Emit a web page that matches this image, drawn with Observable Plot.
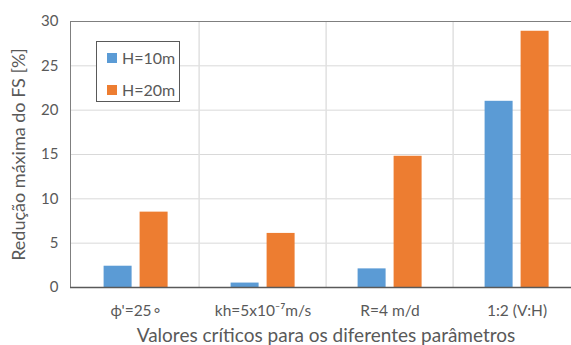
<!DOCTYPE html>
<html>
<head>
<meta charset="utf-8">
<script src="https://cdn.jsdelivr.net/npm/d3@7"></script>
<script src="https://cdn.jsdelivr.net/npm/@observablehq/plot@0.6"></script>
<style>
  html, body { margin: 0; padding: 0; background: #fff; }
  #wrap { position: relative; width: 571px; height: 345px; overflow: hidden; font-family: Lato, "Open Sans", sans-serif; }
  #legend { position: absolute; left: 96px; top: 41px; width: 82px; height: 59px; border: 1px solid #595959; background: #fff; }
  .item { position: absolute; left: 10px; display: flex; align-items: center; font-size: 16px; color: #595959; }
  .sw { width: 10px; height: 10px; margin-right: 5px; }
</style>
</head>
<body>
<div id="wrap"></div>
<script>
const categories = ["ϕ'=25∘", "kh=5x10⁻⁷m/s", "R=4 m/d", "1:2 (V:H)"];
const seriesNames = ["H=10m", "H=20m"];
const valuesH10 = [2.4, 0.5, 2.1, 21.0];
const valuesH20 = [8.5, 6.1, 14.8, 28.9];
const yTicks = [0, 5, 10, 15, 20, 25, 30];
const colors = ["#5b9bd5", "#ed7d31"];

const rows10 = categories.map((c, i) => ({cat: c, v: valuesH10[i]}));
const rows20 = categories.map((c, i) => ({cat: c, v: valuesH20[i]}));

const txt = "#595959";
const chart = Plot.plot({
  width: 571,
  height: 345,
  marginLeft: 70,
  marginRight: -10,
  marginTop: 21,
  marginBottom: 58,
  style: {fontFamily: "Lato, 'Open Sans', sans-serif", color: txt, background: "#fff"},
  x: {domain: categories, padding: 0},
  y: {domain: [0, 30]},
  marks: [
    Plot.gridY(yTicks, {stroke: "#d9d9d9", strokeOpacity: 1, strokeWidth: 1}),
    Plot.ruleX(categories.slice(1), {x: d => d, dx: -63.875, stroke: "#e0e0e0", strokeWidth: 1.5}),
    Plot.barY(rows10, {x: "cat", y: "v", fill: colors[0], insetLeft: 31.6, insetRight: 67.4}),
    Plot.barY(rows20, {x: "cat", y: "v", fill: colors[1], insetLeft: 67.6, insetRight: 31.4}),
    Plot.frame({stroke: "#7f7f7f", strokeWidth: 1}),
    Plot.ruleY([0], {stroke: "#595959", strokeWidth: 1.5}),
    Plot.axisY(yTicks, {tickSize: 0, tickPadding: 12, fontSize: 15, fill: txt,
      label: "Redução máxima do FS [%]", labelAnchor: "center", labelArrow: "none", labelOffset: 58}),
    Plot.axisX({tickSize: 0, tickPadding: 17, fontSize: 15.5, fill: txt,
      label: "Valores críticos para os diferentes parâmetros", labelAnchor: "center", labelArrow: "none", labelOffset: 54})
  ]
});
chart.querySelectorAll("[aria-label='y-axis label'] text").forEach(t => t.setAttribute("font-size", 18));
chart.querySelectorAll("[aria-label='x-axis label'] text").forEach(t => t.setAttribute("font-size", 19));
const wrap = document.getElementById("wrap");
wrap.appendChild(chart);

const legend = document.createElement("div");
legend.id = "legend";
seriesNames.forEach((name, i) => {
  const it = document.createElement("div");
  it.className = "item";
  it.style.top = (i === 0 ? 6 : 38) + "px";
  const sw = document.createElement("span");
  sw.className = "sw";
  sw.style.background = colors[i];
  it.appendChild(sw);
  it.appendChild(document.createTextNode(name));
  legend.appendChild(it);
});
wrap.appendChild(legend);
</script>
</body>
</html>
